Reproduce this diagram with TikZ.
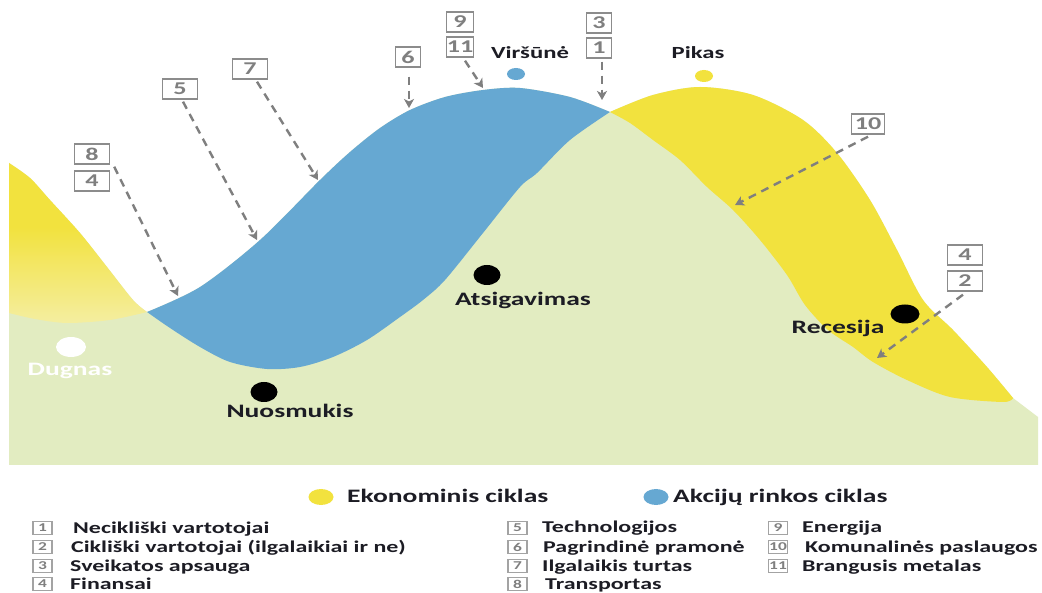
\documentclass[tikz,border=0pt]{standalone}
\usepackage{fontspec}
\setmainfont{Carlito}[FakeStretch=1.45]
\usetikzlibrary{arrows.meta,shapes.geometric}

\definecolor{econ}{HTML}{F2E23E}
\definecolor{econpale}{HTML}{F4EEA0}
\definecolor{stock}{HTML}{66A8D2}
\definecolor{ground}{HTML}{E2ECC1}
\definecolor{pointer}{HTML}{7F7F7F}
\definecolor{boxgray}{HTML}{8C8C8C}
\definecolor{ink}{HTML}{1C1C24}

% left trough of the economic cycle: bright above, fading near the bottom
\pgfdeclareverticalshading{troughfade}{100bp}{color(0bp)=(econpale); color(25bp)=(econpale); color(55bp)=(econ); color(100bp)=(econ)}

\begin{document}
\begin{tikzpicture}[x=1pt,y=-1pt,
  tag/.style={draw=boxgray, line width=1.4pt, fill=white, text=pointer,
    font=\fontsize{18}{18}\selectfont\bfseries, inner sep=0pt,
    minimum height=20pt, minimum width=#1},
  tag/.default=25pt,
  ptr/.style={draw=pointer, line width=2.4pt, dash pattern=on 8pt off 6pt,
    -{Stealth[length=9pt,width=10pt,inset=2.5pt]}},
  phase/.style={anchor=base, text=ink, font=\fontsize{19}{19}\selectfont\bfseries, inner sep=0pt},
  peak/.style={anchor=base, text=ink, font=\fontsize{17}{17}\selectfont\bfseries, inner sep=0pt},
  dot/.style={ellipse, inner sep=0pt, minimum width=27pt, minimum height=20pt},
  smalldot/.style={ellipse, inner sep=0pt, minimum width=18pt, minimum height=12pt},
  legdot/.style={ellipse, inner sep=0pt, minimum width=25pt, minimum height=16pt},
  legtext/.style={anchor=base west, text=ink, font=\fontsize{19}{19}\selectfont\bfseries, inner sep=0pt},
  keybox/.style={draw=boxgray!80, line width=1.1pt, fill=white, text=pointer,
    font=\fontsize{12}{12}\selectfont\bfseries, inner sep=0pt,
    minimum width=19pt, minimum height=13pt},
  keytext/.style={anchor=base west, text=ink, font=\fontsize{16.5}{16.5}\selectfont\bfseries, inner sep=0pt}
]
\useasboundingbox (0,0) rectangle (1042,593);
\fill[white] (0,0) rectangle (1042,593);

% ground under both cycles (upper envelope of the curves)
\fill[ground] (9,465) -- (9,163)
  -- plot[smooth] coordinates {(9,163) (30,178) (50,200) (80,233) (107,267) (133,300) (147,312)}
  -- plot[smooth] coordinates {(147,312) (200,287) (260,240) (320,180) (350,152) (380,128) (410,110) (445,97) (483,90) (520,88) (570,97) (610,112)}
  -- plot[smooth] coordinates {(610,112) (653,95) (700,87) (753,95) (803,120) (837,153) (870,200) (897,250) (923,300) (953,330) (987,367) (1013,398)}
  -- (1038,417) -- (1038,465) -- cycle;

% economic cycle, left part
\shade[shading=troughfade] (9,163)
  -- plot[smooth] coordinates {(9,163) (30,178) (50,200) (80,233) (107,267) (133,300) (147,312)}
  -- plot[smooth] coordinates {(147,312) (110,320) (67,323) (35,319) (9,313)}
  -- cycle;

% stock market cycle
\fill[stock] (147,312)
  -- plot[smooth] coordinates {(147,312) (200,287) (260,240) (320,180) (350,152) (380,128) (410,110) (445,97) (483,90) (520,88) (570,97) (610,112)}
  -- plot[smooth] coordinates {(610,112) (570,140) (537,173) (520,187) (483,233) (445,280) (423,300) (400,317) (367,340) (333,357) (300,367) (267,369) (230,362) (200,347) (170,328) (147,312)}
  -- cycle;

% economic cycle, right part
\fill[econ] (610,112)
  -- plot[smooth] coordinates {(610,112) (653,95) (700,87) (753,95) (803,120) (837,153) (870,200) (897,250) (923,300) (953,330) (987,367) (1013,398)}
  -- plot[smooth] coordinates {(1013,398) (1003,402) (950,397) (907,380) (873,362) (853,347) (828,330) (805,305) (787,275) (760,240) (733,210) (707,187) (680,160) (653,140) (630,123) (610,112)}
  -- cycle;

% phase markers
\node[smalldot, fill=stock] (dV) at (516,74) {};
\node[smalldot, fill=econ] (dP) at (704,76) {};
\node[dot, fill=black] (dA) at (487,275) {};
\node[dot, fill=black] (dN) at (264,392) {};
\node[dot, fill=black, minimum width=29pt, minimum height=19pt] (dR) at (905,314) {};
\node[dot, fill=white, minimum width=30pt] (dD) at (71,347) {};

\node[peak] (lV) at (530,59) {Viršūnė};
\node[peak] (lP) at (698,59) {Pikas};
\node[phase] (lA) at (523,306) {Atsigavimas};
\node[phase] (lN) at (290,418) {Nuosmukis};
\node[phase] (lR) at (838,334) {Recesija};
\node[phase, text=white] (lD) at (70,376) {Dugnas};

% sector tags
\node[tag=35pt] (b8) at (92,154) {8};
\node[tag=35pt] (b4l) at (92,181) {4};
\node[tag=35pt] (b5) at (180,89) {5};
\node[tag=35pt] (b7) at (250,69) {7};
\node[tag] (b6) at (408,57) {6};
\node[tag=27pt] (b9) at (460,22) {9};
\node[tag=27pt] (b11) at (460,47) {11};
\node[tag] (b3) at (599,23) {3};
\node[tag] (b1) at (599,48) {1};
\node[tag=33pt] (b10) at (868,124) {10};
\node[tag=35pt] (b4r) at (965,255) {4};
\node[tag=35pt] (b2r) at (965,281) {2};

% arrow targets on the curves
\coordinate (t8) at (178,296);
\coordinate (t5) at (257,240);
\coordinate (t7) at (318,180);
\coordinate (t6) at (409,108);
\coordinate (t11) at (483,88);
\coordinate (t1) at (602,100);
\coordinate (t10) at (735,205);
\coordinate (t2) at (877,358);

\draw[ptr] ([shift={(4,2)}]b8.south east) -- (t8);
\draw[ptr] ([shift={(3,2)}]b5.south) -- (t5);
\draw[ptr] ([shift={(7,2)}]b7.south) -- (t7);
\draw[ptr, shorten <=9pt] ([xshift=1pt]b6.south) -- (t6);
\draw[ptr] ([shift={(5,3)}]b11.south) -- (t11);
\draw[ptr] ([shift={(3,3)}]b1.south) -- (t1);
\draw[ptr] ([shift={(0,2)}]b10.south) -- (t10);
\draw[ptr] ([shift={(-2,3)}]b2r.south) -- (t2);

% legend
\node[legdot, fill=econ] (kE) at (321,497) {};
\node[legtext] (hE) at (347,503) {Ekonominis ciklas};
\node[legdot, fill=stock] (kS) at (656,497) {};
\node[legtext] (hS) at (673,503) {Akcijų rinkos ciklas};

\node[keybox] (k1) at (42.5,528) {1};
\node[keybox] (k2) at (42.5,547) {2};
\node[keybox] (k3) at (42.5,566) {3};
\node[keybox] (k4) at (42.5,584) {4};
\node[keytext] (n1) at (73,533) {Necikliški vartotojai};
\node[keytext] (n2) at (71,552) {Cikliški vartotojai (ilgalaikiai ir ne)};
\node[keytext] (n3) at (70,571) {Sveikatos apsauga};
\node[keytext] (n4) at (70,589) {Finansai};

\node[keybox] (k5) at (517.5,528) {5};
\node[keybox] (k6) at (517.5,547) {6};
\node[keybox] (k7) at (517.5,566) {7};
\node[keybox] (k8) at (517.5,584) {8};
\node[keytext] (n5) at (542,532) {Technologijos};
\node[keytext] (n6) at (543,552) {Pagrindinė pramonė};
\node[keytext] (n7) at (542,571) {Ilgalaikis turtas};
\node[keytext] (n8) at (545,589) {Transportas};

\node[keybox] (k9) at (778,528) {9};
\node[keybox] (k10) at (778,547) {10};
\node[keybox] (k11) at (778,566) {11};
\node[keytext] (n9) at (802,532) {Energija};
\node[keytext] (n10) at (805,552) {Komunalinės paslaugos};
\node[keytext] (n11) at (802,571) {Brangusis metalas};
\end{tikzpicture}
\end{document}
